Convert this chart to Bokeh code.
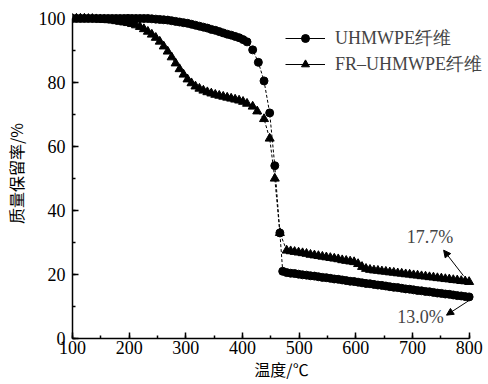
from bokeh.plotting import figure
from bokeh.models import (Range1d, SingleIntervalTicker, Label, Arrow, NormalHead,
                          Legend, LegendItem, ColumnDataSource)
from bokeh.embed import file_html
from bokeh.resources import INLINE

# ---------------- data ----------------
temp_a = [100, 107, 114, 121, 128, 135, 142, 149, 156, 163, 170, 177, 184, 191, 198,
          205, 212, 219, 226, 233, 240, 247, 254, 261, 268, 275, 282, 289, 296, 303,
          310, 317, 324, 331, 338, 345, 352, 359, 366, 373, 380, 387, 394, 401, 408]
uhmwpe_a = [100, 100, 100, 100, 100, 100, 100, 100, 100, 100, 100, 100, 100, 100, 100,
            100, 100, 100, 100, 100, 99.9, 99.8, 99.7, 99.6, 99.5, 99.3, 99.1, 98.9, 98.7, 98.5,
            98.2, 97.9, 97.6, 97.3, 97.0, 96.6, 96.3, 95.9, 95.5, 95.1, 94.8, 94.4, 94.0, 93.4, 92.7]
fr_a = [100, 100, 100, 100, 99.9, 99.9, 99.8, 99.7, 99.6, 99.5, 99.4, 99.2, 99.0, 98.8, 98.6,
        98.3, 97.9, 97.4, 96.7, 95.9, 95.0, 94.0, 92.8, 91.3, 89.7, 87.9, 86.0, 84.2, 82.5, 81.0,
        79.8, 78.8, 78.1, 77.5, 77.0, 76.6, 76.2, 75.9, 75.6, 75.3, 75.0, 74.7, 74.4, 74.0, 73.4]

temp_u_drop = [418, 428, 438, 448, 457, 466, 471]
uhmwpe_drop = [90.2, 86.3, 80.5, 70.5, 54.0, 33.0, 21.0]
temp_f_drop = [418, 426, 438, 448, 457, 466]
fr_drop = [72.5, 71.0, 68.6, 62.5, 50.0, 33.0]

temp_c = [478, 485, 492, 499, 506, 513, 520, 527, 534, 541, 548, 555, 562, 569, 576, 583,
          590, 597, 604, 611, 618, 625, 632, 639, 646, 653, 660, 667, 674, 681, 688, 695,
          702, 709, 716, 723, 730, 737, 744, 751, 758, 765, 772, 779, 786, 793, 800]
uhmwpe_c = [20.6, 20.4, 20.3, 20.1, 19.9, 19.8, 19.6, 19.5, 19.3, 19.1, 19.0, 18.8, 18.6, 18.5, 18.3, 18.1,
            17.9, 17.8, 17.6, 17.4, 17.2, 17.1, 16.9, 16.7, 16.6, 16.4, 16.2, 16.0, 15.9, 15.7, 15.5, 15.4,
            15.2, 15.0, 14.9, 14.7, 14.6, 14.4, 14.2, 14.1, 13.9, 13.8, 13.6, 13.4, 13.3, 13.1, 13.0]
fr_c = [27.5, 27.3, 27.1, 26.9, 26.7, 26.5, 26.2, 26.0, 25.8, 25.6, 25.4, 25.2, 25.0, 24.8, 24.5, 24.3,
        24.1, 23.9, 23.3, 22.4, 21.8, 21.5, 21.3, 21.2, 21.0, 20.9, 20.7, 20.6, 20.4, 20.3, 20.1, 20.0,
        19.8, 19.7, 19.5, 19.4, 19.2, 19.1, 18.9, 18.8, 18.6, 18.5, 18.3, 18.2, 18.0, 17.9, 17.7]

x_title = "温度/℃"
y_title = "质量保留率/%"
series_names = ["UHMWPE纤维", "FR–UHMWPE纤维"]
end_labels = ["17.7%", "13.0%"]

u_x = temp_a + temp_u_drop + temp_c
u_y = uhmwpe_a + uhmwpe_drop + uhmwpe_c
f_x = temp_a + temp_f_drop + temp_c
f_y = fr_a + fr_drop + fr_c

SERIF = "Liberation Serif"
CJK = "Noto Sans CJK SC"

p = figure(frame_width=418, frame_height=330, output_backend="svg", toolbar_location=None,
           x_range=Range1d(100, 837.7), y_range=Range1d(0, 103.125),
           min_border_left=70, min_border_right=0, min_border_top=8, min_border_bottom=46)
p.outline_line_color = None
p.xgrid.grid_line_color = None
p.ygrid.grid_line_color = None
p.background_fill_color = "white"
p.border_fill_color = "white"

p.xaxis.ticker = SingleIntervalTicker(interval=100, num_minor_ticks=2)
p.yaxis.ticker = SingleIntervalTicker(interval=20, num_minor_ticks=2)
p.xaxis.bounds = (100, 800)
p.yaxis.bounds = (0, 100)
for ax in (p.xaxis, p.yaxis):
    ax.major_tick_in = 6
    ax.major_tick_out = 0
    ax.minor_tick_in = 3
    ax.minor_tick_out = 0
    ax.axis_line_width = 1.5
    ax.major_tick_line_width = 1.5
    ax.minor_tick_line_width = 1.5
    ax.major_label_text_font = SERIF
    ax.major_label_text_font_size = "18px"
    ax.major_label_text_color = "black"
    ax.axis_line_color = "black"
    ax.axis_label_text_font = CJK
    ax.axis_label_text_font_size = "16px"
    ax.axis_label_text_font_style = "normal"
    ax.axis_label_text_color = "black"
p.xaxis.major_label_standoff = 2
p.yaxis.major_label_standoff = 7
p.xaxis.axis_label = x_title
p.yaxis.axis_label = y_title
p.xaxis.axis_label_standoff = 0
p.yaxis.axis_label_standoff = 8

# data lines and markers
p.line(u_x, u_y, line_color="black", line_width=1, line_dash="3 2")
p.line(f_x, f_y, line_color="black", line_width=1, line_dash="3 2")
p.scatter(u_x, u_y, marker="circle", size=8, fill_color="black", line_color="black")
p.scatter(f_x, f_y, marker="triangle", size=9, fill_color="black", line_color="black")

# legend with solid line glyphs (dummy renderers kept outside the visible range)
dummy = ColumnDataSource(dict(x=[-1000], y=[-1000]))
l1 = p.line("x", "y", source=dummy, line_color="black", line_width=1)
s1 = p.scatter("x", "y", source=dummy, marker="circle", size=8, fill_color="black", line_color="black")
l2 = p.line("x", "y", source=dummy, line_color="black", line_width=1)
s2 = p.scatter("x", "y", source=dummy, marker="triangle", size=9, fill_color="black", line_color="black")
legend = Legend(items=[LegendItem(label=series_names[0], renderers=[l1, s1]),
                       LegendItem(label=series_names[1], renderers=[l2, s2])],
                location=(213, 262), margin=0, padding=0, spacing=2,
                glyph_width=40, glyph_height=20, label_height=20, label_standoff=10,
                label_text_font=SERIF, label_text_font_size="18px",
                border_line_color=None, background_fill_alpha=0)
p.add_layout(legend)

# end annotations
p.add_layout(Arrow(end=NormalHead(size=7, fill_color="black", line_color="black"),
                   x_start=790, y_start=19.6, x_end=755, y_end=27.6, line_width=1))
p.add_layout(Arrow(end=NormalHead(size=7, fill_color="black", line_color="black"),
                   x_start=800, y_start=11.9, x_end=760, y_end=7.3, line_width=1))
p.add_layout(Label(x=731, y=31.6, text=end_labels[0], text_align="center", text_baseline="middle",
                   text_font=SERIF, text_font_size="18px"))
p.add_layout(Label(x=714, y=6.6, text=end_labels[1], text_align="center", text_baseline="middle",
                   text_font=SERIF, text_font_size="18px"))

open("out.html", "w").write(file_html(p, INLINE))
